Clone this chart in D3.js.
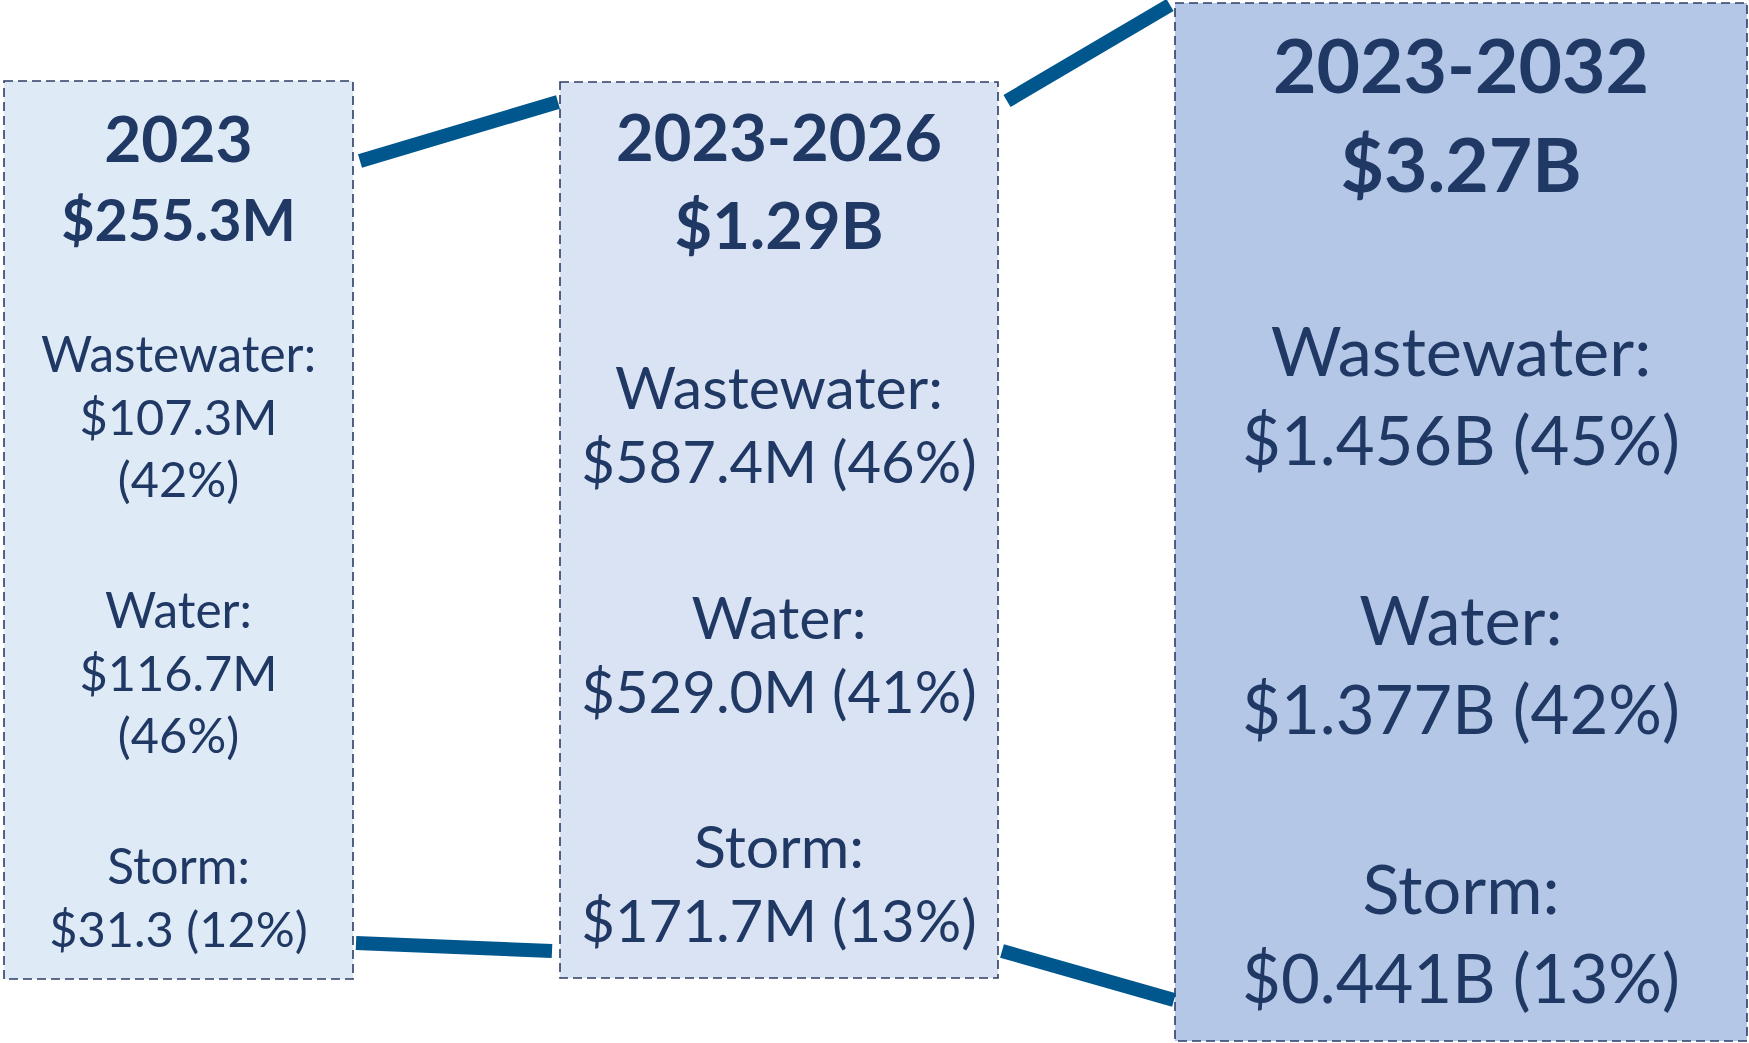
<!DOCTYPE html>
<html>
<head>
<meta charset="utf-8">
<script src="https://cdn.jsdelivr.net/npm/d3@7"></script>
<style>
body { margin: 0; background: #ffffff; }
svg { display: block; }
text { font-family: Lato, "Open Sans", sans-serif; fill: #203864; }
</style>
</head>
<body>
<svg></svg>
<script>
// chart values
var periods = ["2023", "2023-2026", "2023-2032"]
var totals = ["$255.3M", "$1.29B", "$3.27B"]
var categories = ["Wastewater:", "Water:", "Storm:"]
var wastewaterAmt = ["$107.3M", "$587.4M", "$1.456B"]
var wastewaterPct = ["42%", "46%", "45%"]
var waterAmt = ["$116.7M", "$529.0M", "$1.377B"]
var waterPct = ["46%", "41%", "42%"]
var stormAmt = ["$31.3", "$171.7M", "$0.441B"]
var stormPct = ["12%", "13%", "13%"]

var screen = {width: 1749, height: 1043}

// box geometry and type sizes (layout only)
var boxes = [
    {x0: 4, x1: 353, y0: 81, y1: 979, fill: "#deeaf6",
     head: [{size: 64, y: 162}, {size: 57.5, y: 241}],
     label: 49.5, value: 48.7, first: 372, step: 256, lineH: 62.5, maxW: 300},
    {x0: 560, x1: 998, y0: 82, y1: 978, fill: "#dae3f3",
     head: [{size: 65, y: 161}, {size: 65, y: 249}],
     label: 59, value: 58, first: 409, step: 229.5, lineH: 74, maxW: 420},
    {x0: 1175, x1: 1747, y0: 3, y1: 1041, fill: "#b4c7e7",
     head: [{size: 75, y: 93}, {size: 75, y: 192}],
     label: 68.5, value: 67, first: 376, step: 269, lineH: 89, maxW: 560}
]

// connectors: offsets from the box edges they join
var connectors = [
    {from: 0, to: 1, a: {dx: 7, y: "top", dy: 80}, b: {dx: -2, y: "top", dy: 20}},
    {from: 1, to: 2, a: {dx: 9, y: "top", dy: 19}, b: {dx: -5, y: "top", dy: 2}},
    {from: 0, to: 1, a: {dx: 3, y: "bottom", dy: -36}, b: {dx: -8, y: "bottom", dy: -27}},
    {from: 1, to: 2, a: {dx: 4, y: "bottom", dy: -27}, b: {dx: -1, y: "bottom", dy: -41}}
]

var svg = d3.select("svg")
    .attr("width", screen.width)
    .attr("height", screen.height)

var amounts = [wastewaterAmt, waterAmt, stormAmt]
var shares = [wastewaterPct, waterPct, stormPct]

var panels = svg.selectAll("g.panel")
    .data(boxes)
    .enter()
    .append("g")
    .attr("class", "panel")

panels.append("rect")
    .attr("x", function(b) { return b.x0 })
    .attr("y", function(b) { return b.y0 })
    .attr("width", function(b) { return b.x1 - b.x0 })
    .attr("height", function(b) { return b.y1 - b.y0 })
    .attr("fill", function(b) { return b.fill })
    .attr("stroke", "#2c3e66")
    .attr("stroke-width", 1.6)
    .attr("stroke-dasharray", "9,5")

panels.each(function(b, i)
{
    var g = d3.select(this)
    var cx = (b.x0 + b.x1) / 2

    var heads = [periods[i], totals[i]]
    heads.forEach(function(t, k)
    {
        g.append("text")
        .attr("x", cx)
        .attr("y", b.head[k].y)
        .attr("text-anchor", "middle")
        .attr("font-weight", "bold")
        .attr("font-size", b.head[k].size)
        .text(t)
    })

    categories.forEach(function(cat, c)
    {
        var y = b.first + c * b.step
        g.append("text")
        .attr("x", cx)
        .attr("y", y)
        .attr("text-anchor", "middle")
        .attr("font-size", b.label)
        .text(cat)

        var full = amounts[c][i] + " (" + shares[c][i] + ")"
        var line = g.append("text")
        .attr("x", cx)
        .attr("y", y + b.lineH)
        .attr("text-anchor", "middle")
        .attr("font-size", b.value)
        .text(full)

        // wrap the share onto its own line when the box is too narrow
        if (line.node().getComputedTextLength() > b.maxW)
        {
            line.text(amounts[c][i])
            g.append("text")
            .attr("x", cx)
            .attr("y", y + 2 * b.lineH)
            .attr("text-anchor", "middle")
            .attr("font-size", b.value)
            .text("(" + shares[c][i] + ")")
        }
    })
})

var edgeY = function(b, end)
{
    return (end.y == "top" ? b.y0 : b.y1) + end.dy
}

var link = d3.line()

svg.selectAll("path.connector")
    .data(connectors)
    .enter()
    .append("path")
    .attr("class", "connector")
    .attr("d", function(c)
    {
        var p = boxes[c.from], q = boxes[c.to]
        return link([[p.x1 + c.a.dx, edgeY(p, c.a)], [q.x0 + c.b.dx, edgeY(q, c.b)]])
    })
    .attr("fill", "none")
    .attr("stroke", "#00578e")
    .attr("stroke-width", 14)
    .attr("stroke-linecap", "butt")
</script>
</body>
</html>
